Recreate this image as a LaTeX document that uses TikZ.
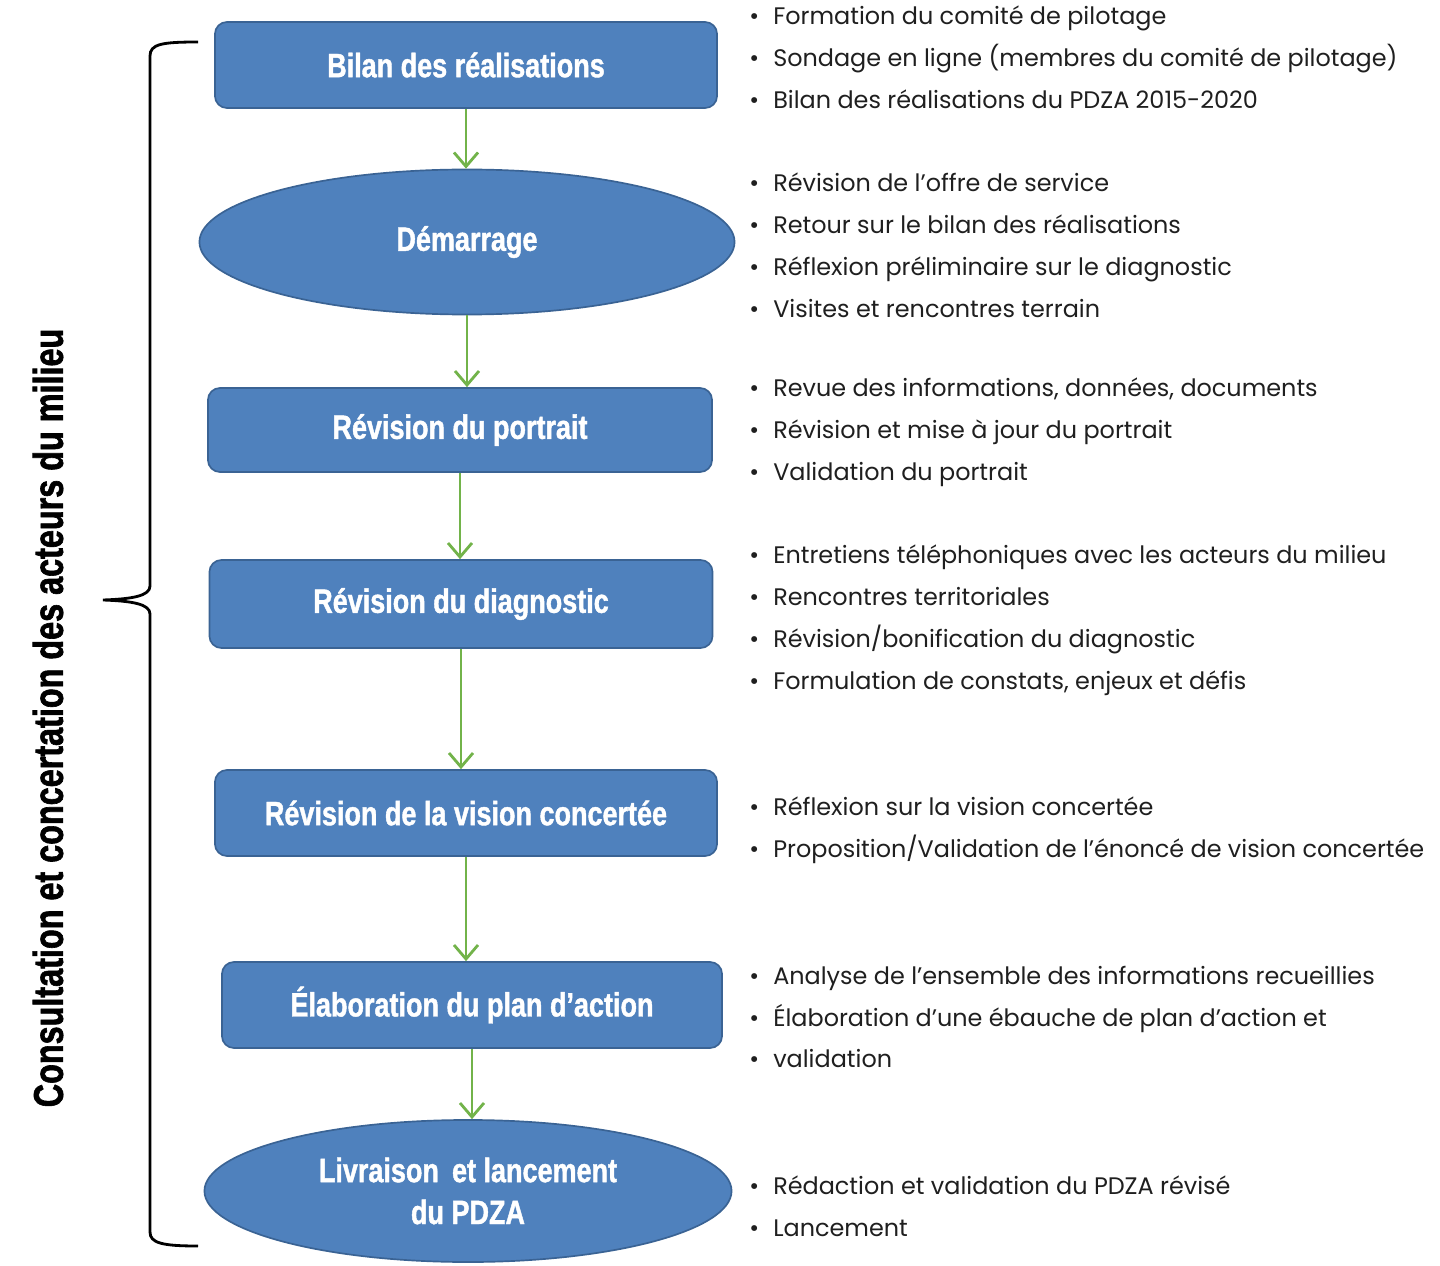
\documentclass[tikz,border=0pt]{standalone}
\usepackage{fontspec}
\setmainfont{Poppins}
\newfontfamily\titrefont[FakeStretch=0.8,FakeBold=1.2]{Liberation Sans Bold}
\newfontfamily\etroitfont[FakeStretch=0.78,FakeBold=1.5]{Liberation Sans Bold}
\usetikzlibrary{shapes.geometric,arrows.meta,positioning}
\definecolor{bleuetape}{HTML}{4F81BD}
\definecolor{bordetape}{HTML}{3A6394}
\definecolor{vertfleche}{HTML}{72B34A}
\newcommand{\puce}{\makebox[0.6cm][l]{\textbullet}}
\tikzstyle{etape} = [rectangle, rounded corners=0.3cm, minimum width=12.55cm, minimum height=2.15cm, text centered, draw=bordetape, line width=1.2pt, fill=bleuetape, text=white, font=\titrefont\fontsize{24}{29.8}\selectfont]
\tikzstyle{ovale} = [ellipse, inner sep=0pt, text centered, align=center, draw=bordetape, line width=1.2pt, fill=bleuetape, text=white, font=\titrefont\fontsize{24}{29.8}\selectfont]
\tikzstyle{puces} = [anchor=west, align=left, inner sep=0pt, text=black!88, font=\fontsize{17}{29.8}\selectfont]
\tikzstyle{fleche} = [line width=2pt, draw=vertfleche, -{Straight Barb[length=3.5mm,width=6mm]}]
\tikzstyle{accolade} = [line width=2pt, draw=black]

\begin{document}
\begin{tikzpicture}[x=0.025cm,y=-0.025cm]
\useasboundingbox (0,0) rectangle (1440,1266);
% etapes
\node (bilan) [etape] at (466,65) {Bilan des réalisations};
\node (demarrage) [ovale,minimum width=13.375cm,minimum height=3.625cm] at (467,242) {Démarrage};
\node (portrait) [etape,minimum width=12.6cm,minimum height=2.1cm] at (460,430) {Révision du portrait};
\node (diagnostic) [etape,minimum width=12.575cm,minimum height=2.2cm] at (461,604) {Révision du diagnostic};
\node (vision) [etape] at (466,813) {Révision de la vision concertée};
\node (plan) [etape,minimum width=12.5cm] at (472,1005) {Élaboration du plan d’action};
\node (livraison) [ovale,minimum width=13.175cm,minimum height=3.55cm] at (468,1191) {Livraison\, et lancement\\du PDZA};
% fleches
\draw [fleche] (bilan.south) -- (bilan.south |- demarrage.north);
\draw [fleche] (demarrage.south) -- (demarrage.south |- portrait.north);
\draw [fleche] (portrait.south) -- (portrait.south |- diagnostic.north);
\draw [fleche] (diagnostic.south) -- (diagnostic.south |- vision.north);
\draw [fleche] (vision.south) -- (vision.south |- plan.north);
\draw [fleche] (plan.south) -- (plan.south |- livraison.north);
% accolade et titre
\draw [accolade] (198,42) .. controls (162,42) and (150,44) .. (150,56) -- (150,586)
  .. controls (150,596) and (132,599) .. (103,600)
  .. controls (132,601) and (150,604) .. (150,614) -- (150,1232)
  .. controls (150,1243) and (162,1246) .. (198,1246);
\node (consult) [rotate=90, font=\etroitfont\fontsize{29.5}{30}\selectfont] at (48,718) {Consultation et concertation des acteurs du milieu};
% listes
\node (l1) [puces] at (749,57) {\puce Formation du comité de pilotage\\
  \puce Sondage en ligne (membres du comité de pilotage)\\
  \puce Bilan des réalisations du PDZA 2015-2020};
\node (l2) [puces] at (749,245) {\puce Révision de l’offre de service\\
  \puce Retour sur le bilan des réalisations\\
  \puce Réflexion préliminaire sur le diagnostic\\
  \puce Visites et rencontres terrain};
\node (l3) [puces] at (749,432) {\puce Revue des informations, données, documents\\
  \puce Révision et mise à jour du portrait\\
  \puce Validation du portrait};
\node (l4) [puces] at (749,620) {\puce Entretiens téléphoniques avec les acteurs du milieu\\
  \puce Rencontres territoriales\\
  \puce Révision/bonification du diagnostic\\
  \puce Formulation de constats, enjeux et défis};
\node (l5) [puces] at (749,830) {\puce Réflexion sur la vision concertée\\
  \puce Proposition/Validation de l’énoncé de vision concertée};
\node (l6) [puces] at (749,1017) {\puce Analyse de l’ensemble des informations recueillies\\
  \puce Élaboration d’une ébauche de plan d’action et\\
  \puce validation};
\node (l7) [puces] at (749,1206) {\puce Rédaction et validation du PDZA révisé\\
  \puce Lancement};
\end{tikzpicture}
\end{document}
